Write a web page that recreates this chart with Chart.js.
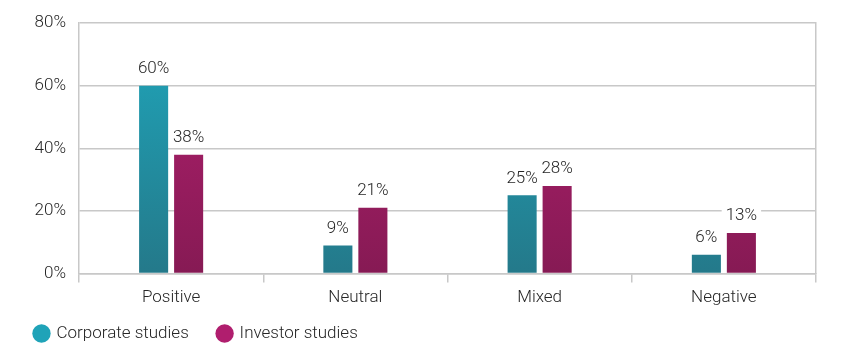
<!DOCTYPE html>
<html><head><meta charset="utf-8">
<script src="https://cdn.jsdelivr.net/npm/chart.js@4/dist/chart.umd.min.js"></script>
<style>html,body{margin:0;padding:0;background:#fff}#wrap{width:862px;height:358px}</style>
</head><body><div id="wrap"><canvas id="c" width="862" height="358"></canvas></div>
<script>
const categories = ["Positive", "Neutral", "Mixed", "Negative"];
const corporateStudies = [60, 9, 25, 6];
const investorStudies = [38, 21, 28, 13];
const yTicks = [0, 20, 40, 60, 80];

const FONT = "Roboto";
const TEXT = '#262626';
function grad(ctx, top, bottom) {
  const c = ctx.chart, a = c.chartArea;
  if (!a) return top;
  const g = c.ctx.createLinearGradient(0, a.top, 0, a.bottom);
  g.addColorStop(0, top); g.addColorStop(1, bottom);
  return g;
}
const labelPlugin = {
  id: 'barLabels',
  afterDatasetsDraw(chart) {
    const ctx = chart.ctx;
    ctx.save();
    ctx.font = "300 17px " + FONT;
    ctx.textAlign = 'center';
    ctx.textBaseline = 'middle';
    chart.data.datasets.forEach((ds, i) => {
      chart.getDatasetMeta(i).data.forEach((bar, j) => {
        const txt = ds.data[j] + '%';
        const y = bar.y - 17;
        const w = ctx.measureText(txt).width + 8;
        ctx.fillStyle = '#fff';
        ctx.fillRect(bar.x - w / 2, y - 10, w, 20);
        ctx.fillStyle = TEXT;
        ctx.fillText(txt, bar.x, y);
      });
    });
    ctx.restore();
  }
};

new Chart(document.getElementById('c'), {
  type: 'bar',
  data: {
    labels: categories,
    datasets: [
      { label: 'Corporate studies', data: corporateStudies,
        backgroundColor: ctx => grad(ctx, '#1fa6bb', '#24798a') },
      { label: 'Investor studies', data: investorStudies,
        backgroundColor: ctx => grad(ctx, '#b3206f', '#861a54') }
    ]
  },
  options: {
    responsive: false,
    animation: false,
    layout: { padding: { top: 15, left: 23, right: 0, bottom: 6 } },
    datasets: { bar: { categoryPercentage: 0.38, barPercentage: 0.83 } },
    plugins: {
      tooltip: { enabled: false },
      legend: {
        position: 'bottom', align: 'start',
        labels: {
          usePointStyle: true, pointStyle: 'circle', boxWidth: 13, boxHeight: 13,
          color: TEXT, font: { family: FONT, size: 17, weight: 300 }, padding: 12,
          generateLabels(chart) {
            const cols = ['#1fa3b8', '#b01e6e'];
            return chart.data.datasets.map((d, i) => ({
              text: i === 0 ? d.label + '\u2002\u2002' : d.label,
              fillStyle: cols[i], strokeStyle: cols[i], lineWidth: 0,
              pointStyle: 'circle', datasetIndex: i, fontColor: TEXT
            }));
          }
        }
      }
    },
    scales: {
      x: {
        grid: { display: true, offset: true, drawOnChartArea: false, tickLength: 9, color: '#c8c8c8', lineWidth: 1.5 },
        border: { display: true, color: '#c8c8c8', width: 1.5 },
        ticks: { color: TEXT, font: { family: FONT, size: 17, weight: 300 }, padding: 5 }
      },
      y: {
        min: 0, max: 80,
        afterBuildTicks(s) { s.ticks = yTicks.map(v => ({ value: v })); },
        afterFit(s) { s.width = 56; },
        grid: { color: '#c8c8c8', lineWidth: 1.5, drawTicks: false },
        border: { display: true, color: '#c8c8c8', width: 1.5 },
        ticks: { color: TEXT, font: { family: FONT, size: 17, weight: 300 }, padding: 13, callback: v => v + '%' }
      },
      yRight: {
        position: 'right', min: 0, max: 80,
        afterFit(s) { s.width = 46; },
        grid: { display: false },
        border: { display: true, color: '#c8c8c8', width: 1.5 },
        ticks: { display: false }
      }
    }
  },
  plugins: [labelPlugin]
});
</script></body></html>
